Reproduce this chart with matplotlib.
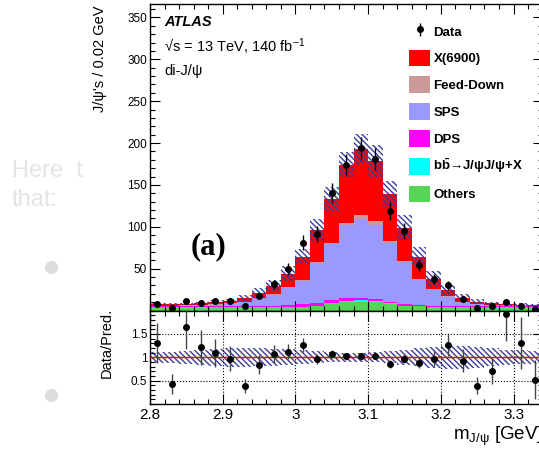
import numpy as np
import matplotlib
matplotlib.use('Agg')
import matplotlib.pyplot as plt
from matplotlib.patches import Patch
from matplotlib.lines import Line2D
from matplotlib.ticker import FixedLocator, MultipleLocator, FuncFormatter

plt.rcParams['font.family'] = ['Liberation Sans', 'DejaVu Sans']
plt.rcParams['mathtext.fontset'] = 'custom'
plt.rcParams['mathtext.rm'] = 'Liberation Sans'
plt.rcParams['mathtext.it'] = 'Liberation Sans:italic'
plt.rcParams['mathtext.bf'] = 'Liberation Sans:bold'
plt.rcParams['hatch.linewidth'] = 1.0

# ---------------- data ----------------
bin_edges = [2.80, 2.82, 2.84, 2.86, 2.88, 2.90, 2.92, 2.94, 2.96, 2.98, 3.00,
             3.02, 3.04, 3.06, 3.08, 3.10, 3.12, 3.14, 3.16, 3.18, 3.20,
             3.22, 3.24, 3.26, 3.28, 3.30, 3.32, 3.34]

others = [4.5, 4.5, 4.5, 4.5, 4.5, 4.5, 4.5, 4.5, 4.5, 4.5, 4.5, 5.5, 8.5, 10.0,
          10.5, 10.0, 8.0, 5.5, 4.8, 4.5, 4.5, 4.5, 4.5, 4.5, 4.5, 4.5, 4.5]
bbbar = [0.1, 0.1, 0.1, 0.1, 0.1, 0.1, 0.1, 0.1, 0.1, 0.1, 0.1, 0.2, 0.5, 1.5,
         1.5, 1.2, 0.8, 0.3, 0.1, 0.1, 0.1, 0.1, 0.1, 0.1, 0.1, 0.1, 0.1]
dps = [0.9, 0.9, 0.9, 0.9, 0.9, 1.0, 1.0, 1.1, 1.2, 1.5, 2.8, 3.2, 3.2, 3.5,
       3.2, 2.0, 1.6, 2.4, 1.6, 1.2, 1.0, 0.9, 0.9, 0.9, 0.9, 0.9, 0.9]
sps_top = [5.5, 5.5, 5.8, 6.0, 7.0, 8.5, 10.5, 14.5, 19.0, 27.0, 35.5, 57.0, 79.0,
           102.5, 109.0, 102.5, 81.0, 57.5, 37.0, 25.5, 16.5, 10.5, 7.5, 6.5, 6.0,
           5.8, 5.6]
feed_down = [0.2, 0.2, 0.2, 0.2, 0.2, 0.2, 0.2, 0.3, 0.4, 0.6, 1.0, 1.5, 2.0,
             2.5, 5.0, 4.5, 2.5, 2.0, 1.0, 0.5, 0.3, 0.2, 0.2, 0.2, 0.2, 0.2, 0.2]
total = [7.5, 7.8, 8.0, 8.5, 10.5, 11.8, 14.5, 21.0, 29.5, 44.0, 64.0, 96.0,
         133.0, 174.0, 193.0, 178.0, 139.0, 99.0, 63.5, 37.6, 24.0, 15.5, 10.5,
         8.5, 7.5, 7.0, 6.8]
total_unc = [1.0, 1.0, 1.2, 1.4, 2.0, 2.2, 3.5, 5.5, 6.5, 9.0, 9.0, 13.0, 15.0,
             15.0, 18.0, 20.0, 16.0, 15.0, 12.0, 9.0, 6.5, 4.5, 3.0, 2.2, 1.8,
             1.5, 1.3]

data = [7.5, 3.0, 11.5, 9.1, 11.5, 11.1, 5.1, 17.5, 31.4, 49.7, 81.0, 91.4,
        140.6, 173.7, 193.6, 180.8, 118.7, 94.8, 54.1, 37.4, 30.2, 13.5, 3.5,
        5.1, 10.3, 5.5, 1.5]
data_err = [2.7, 1.7, 3.4, 3.0, 3.4, 3.3, 2.3, 4.2, 5.6, 7.0, 9.0, 9.6, 11.9,
            13.2, 13.9, 13.4, 10.9, 9.7, 7.4, 6.1, 5.5, 3.7, 1.9, 2.3, 3.2, 2.3, 1.2]

ratio = [1.31, 0.43, 1.64, 1.21, 1.10, 0.97, 0.38, 0.84, 1.07, 1.12, 1.27, 0.97,
         1.07, 1.02, 1.02, 1.03, 0.86, 0.97, 0.88, 0.97, 1.27, 0.93, 0.39, 0.71,
         1.92, 1.30, 0.52]
ratio_err = [0.43, 0.22, 0.47, 0.37, 0.30, 0.27, 0.15, 0.20, 0.20, 0.16, 0.15,
             0.11, 0.09, 0.08, 0.07, 0.075, 0.08, 0.10, 0.12, 0.16, 0.25, 0.24,
             0.18, 0.28, 0.58, 0.56, 0.42]
ratio_band = [0.12, 0.12, 0.14, 0.16, 0.18, 0.20, 0.20, 0.19, 0.18, 0.17, 0.15,
              0.13, 0.11, 0.10, 0.10, 0.11, 0.13, 0.16, 0.19, 0.22, 0.25, 0.25,
              0.22, 0.19, 0.16, 0.15, 0.14]

legend_labels = ['Data', 'X(6900)', 'Feed-Down', 'SPS', 'DPS',
                 r'b$\mathbf{\bar{b}}$→J/ψJ/ψ+X', 'Others']
x_ticks = [2.8, 2.9, 3.0, 3.1, 3.2, 3.3]
y_ticks_main = [50, 100, 150, 200, 250, 300, 350]
y_ticks_ratio = [0.5, 1.0, 1.5]

# ---------------- style ----------------
c_others = '#55d455'
c_bb = '#00ffff'
c_dps = '#ff00ff'
c_sps = '#9999ff'
c_fd = '#cc9999'
c_x = '#ff0000'
c_hatch = '#3b3b9b'
HATCH = '\\' * 6

W, H = 539, 449
fig = plt.figure(figsize=(W / 100, H / 100), dpi=100)

def fx(x):
    return x / W

def fy(y):
    return 1 - y / H

x_left, x_right = 150, 542.6
ax = fig.add_axes([fx(x_left), fy(310.5), fx(x_right) - fx(x_left), fy(4) - fy(310.5)])
axr = fig.add_axes([fx(x_left), fy(404), fx(x_right) - fx(x_left), fy(310.5) - fy(404)],
                   sharex=ax)

edges = np.array(bin_edges)
centers = 0.5 * (edges[:-1] + edges[1:])
widths = np.diff(edges)

o = np.array(others)
b = np.array(bbbar)
d = np.array(dps)
st = np.array(sps_top)
fd = np.array(feed_down)
tot = np.array(total)

l1 = o
l2 = l1 + b
l3 = l2 + d
l4 = st
l5 = st + fd
l6 = tot

ax.stairs(l1, edges, baseline=0, fill=True, color=c_others, lw=0)
ax.stairs(l2, edges, baseline=l1, fill=True, color=c_bb, lw=0)
ax.stairs(l3, edges, baseline=l2, fill=True, color=c_dps, lw=0)
ax.stairs(l4, edges, baseline=l3, fill=True, color=c_sps, lw=0)
ax.stairs(l5, edges, baseline=l4, fill=True, color=c_fd, lw=0)
ax.stairs(l6, edges, baseline=l5, fill=True, color=c_x, lw=0)

unc = np.array(total_unc)
ax.bar(centers, 2 * unc, bottom=tot - unc, width=widths, fill=False,
       hatch=HATCH, edgecolor=c_hatch, lw=0)

eb = ax.errorbar(centers, data, yerr=data_err, fmt='o', color='black', ms=4,
                 elinewidth=1.0, capsize=0, zorder=5)

ax.set_xlim(2.80, 3.34)
ax.set_ylim(0, 366)
ax.yaxis.set_major_locator(FixedLocator(y_ticks_main))
ax.yaxis.set_minor_locator(MultipleLocator(10))
ax.xaxis.set_major_locator(FixedLocator(x_ticks))
ax.xaxis.set_minor_locator(MultipleLocator(0.02))
ax.tick_params(axis='both', which='both', direction='in', top=True, right=True)
ax.tick_params(which='major', length=7, width=0.8)
ax.tick_params(which='minor', length=3.6, width=0.8)
ax.tick_params(axis='y', labelsize=8.5, pad=2)
ax.tick_params(axis='x', labelbottom=False)

# ratio panel
rb = np.array(ratio_band)
axr.bar(centers, 2 * rb, bottom=1 - rb, width=widths, fill=False,
        hatch=HATCH, edgecolor=c_hatch, lw=0)
axr.axhline(1.0, color='red', lw=1.0, zorder=3)
axr.errorbar(centers, ratio, yerr=ratio_err, fmt='o', color='black', ms=4,
             elinewidth=1.0, ecolor='#444444', capsize=0, zorder=5)
axr.set_ylim(0, 2)
axr.yaxis.set_major_locator(FixedLocator(y_ticks_ratio))
axr.yaxis.set_minor_locator(MultipleLocator(0.1))
axr.yaxis.set_major_formatter(FuncFormatter(lambda v, p: '%g' % v))
axr.xaxis.set_major_formatter(FuncFormatter(lambda v, p: '%g' % round(v, 2)))
axr.grid(True, which='major', axis='both', color='black', ls=':', lw=0.8)
axr.set_axisbelow(False)
axr.tick_params(axis='both', which='both', direction='in', top=True, right=True)
axr.tick_params(which='major', length=7, width=0.8)
axr.tick_params(which='minor', length=3.6, width=0.8)
axr.tick_params(axis='y', labelsize=8.5, pad=2)
axr.tick_params(axis='x', labelsize=11, pad=3)

for a in (ax, axr):
    for s in a.spines.values():
        s.set_linewidth(1.0)

# labels
fig.text(fx(100), fy(5), "J/ψ's / 0.02 GeV", rotation=90, ha='center', va='top',
         fontsize=10.5)
fig.text(fx(107), fy(343), 'Data/Pred.', rotation=90, ha='center', va='center',
         fontsize=10.5)
fig.text(fx(453), fy(440), r'm$_{\mathregular{J/ψ}}$ [GeV]', ha='left',
         va='baseline', fontsize=13.5)

fig.text(fx(164), fy(22), 'ATLAS', fontsize=10.5, fontweight='bold',
         fontstyle='italic', va='center')
fig.text(fx(164), fy(47), r'√s = 13 TeV, 140 fb$^{\mathregular{-1}}$', fontsize=10.5,
         va='center')
fig.text(fx(164), fy(71), 'di-J/ψ', fontsize=10.5, va='center')
fig.text(fx(208), fy(247), '(a)', family='Liberation Serif', fontweight='bold',
         fontsize=22, ha='center', va='center')

# stray page elements on the left
fig.text(fx(12), fy(171), 'Here  t', color='#e4e4e4', fontsize=17, va='center')
fig.text(fx(12), fy(200), 'that:', color='#e4e4e4', fontsize=17, va='center')
for yy in (267, 395):
    fig.add_artist(Line2D([fx(51)], [fy(yy)], marker='o', ms=8.5, color='#dddddd',
                          transform=fig.transFigure, lw=0))

# legend
handles = [eb,
           Patch(facecolor=c_x, edgecolor='none'),
           Patch(facecolor=c_fd, edgecolor='none'),
           Patch(facecolor=c_sps, edgecolor='none'),
           Patch(facecolor=c_dps, edgecolor='none'),
           Patch(facecolor=c_bb, edgecolor='none'),
           Patch(facecolor=c_others, edgecolor='none')]
fig.legend(handles, legend_labels, loc='upper left',
           bbox_to_anchor=(fx(409), fy(23)), bbox_transform=fig.transFigure,
           frameon=False, prop={'size': 9.5, 'weight': 'bold'},
           handlelength=1.6, handleheight=1.57, labelspacing=0.76,
           handletextpad=0.25, borderpad=0, borderaxespad=0)

fig.savefig('out.png', dpi=100)
